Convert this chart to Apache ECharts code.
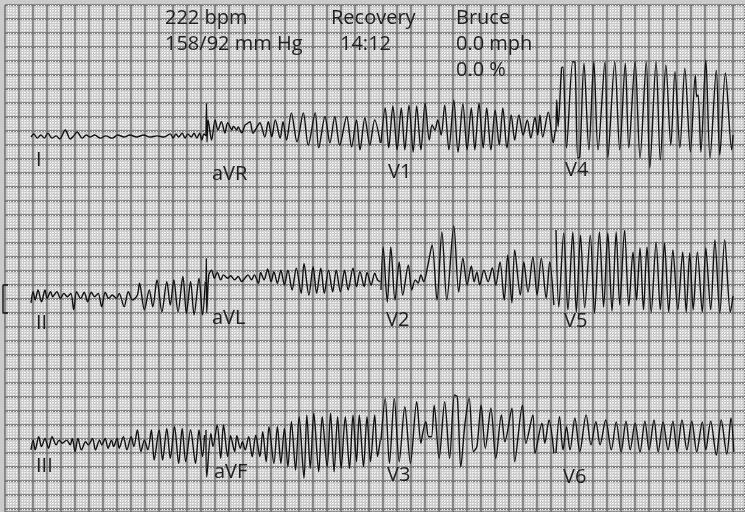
<!DOCTYPE html>
<html><head><meta charset="utf-8">
<script src="https://cdn.jsdelivr.net/npm/echarts/dist/echarts.min.js"></script>
<style>html,body{margin:0;padding:0;background:#fff}#c{width:745px;height:512px}</style>
</head><body><div id="c"></div>
<script>
// ---- header text ----
const HEADER_COL1 = ['222 bpm', '158/92 mm Hg'];
const HEADER_COL2 = ['Recovery', '14:12'];
const HEADER_COL3 = ['Bruce', '0.0 mph', '0.0 %'];
const LEAD_NAMES = [['I','aVR','V1','V4'],['II','aVL','V2','V5'],['III','aVF','V3','V6']];

// ---- traces: [time within lead (s), amplitude (mV)] ----
const I = [[0,0],[0.04,0.11],[0.09,-0.04],[0.14,0.07],[0.19,-0.04],[0.24,0.14],[0.30,-0.04],[0.36,0.04],[0.41,-0.07],[0.49,0.25],[0.56,-0.07],[0.61,0.04],[0.66,0.18],[0.73,-0.04],[0.79,0.07],[0.84,0],[0.91,0.07],[0.99,-0.04],[1.07,0.04],[1.16,-0.04],[1.24,0.07],[1.33,0],[1.41,0.07],[1.51,0],[1.61,0.07],[1.70,0],[1.80,0.04],[1.90,0],[1.99,0.11],[2.03,-0.04],[2.07,0.11],[2.11,0],[2.16,0.14],[2.20,-0.04],[2.24,0.11],[2.29,0],[2.33,0.14],[2.37,-0.04],[2.41,0.14],[2.44,-0.11],[2.47,0.11],[2.50,0.04]];
const aVR = [[0,0.04],[0.007,1.21],[0.014,-0.18],[0.03,0.61],[0.08,-0.11],[0.13,0.61],[0.17,0.25],[0.22,0.55],[0.27,0.14],[0.31,0.51],[0.37,0.25],[0.39,0.39],[0.44,0.25],[0.46,0.36],[0.51,0.15],[0.56,0.43],[0.60,0.50],[0.63,0.55],[0.67,0.14],[0.72,0.32],[0.77,0.51],[0.84,0],[0.89,0.55],[0.94,0.01],[0.99,0.61],[1.06,-0.04],[1.10,0.55],[1.15,-0.11],[1.22,0.86],[1.30,-0.17],[1.39,0.86],[1.46,-0.29],[1.56,0.86],[1.61,-0.39],[1.70,0.73],[1.77,-0.21],[1.84,0.73],[1.91,-0.29],[2.01,0.73],[2.08,-0.35],[2.15,0.61],[2.20,-0.46],[2.27,0.68],[2.34,-0.29],[2.41,0.61],[2.49,-0.21]];
const V1 = [[0,-0.21],[0.06,1.04],[0.11,-0.39],[0.17,1.11],[0.23,-0.46],[0.29,1.04],[0.34,-0.46],[0.40,1.14],[0.46,-0.54],[0.51,1.11],[0.57,-0.46],[0.63,1.21],[0.69,-0.11],[0.73,0.43],[0.77,0.25],[0.81,0.61],[0.86,0.07],[0.91,1.14],[0.97,-0.46],[1.04,1.32],[1.10,-0.54],[1.17,1.18],[1.23,-0.46],[1.29,1.04],[1.34,-0.46],[1.40,1.21],[1.46,-0.39],[1.51,1.04],[1.57,-0.46],[1.63,0.96],[1.69,-0.29],[1.74,1.04],[1.80,-0.39],[1.86,0.79],[1.91,-0.11],[1.97,0.79],[2.03,0.07],[2.09,0.61],[2.14,-0.04],[2.20,0.71],[2.24,0.07],[2.27,0.79],[2.31,0],[2.39,0.89],[2.46,-0.21],[2.49,0.25]];
const V4 = [[0,0.2],[0.01,1.32],[0.03,0.37],[0.08,2.46],[0.10,2.50],[0.15,-0.39],[0.24,2.69],[0.27,2.68],[0.31,-0.75],[0.34,-0.71],[0.40,2.64],[0.47,-0.46],[0.54,2.69],[0.60,-0.46],[0.70,2.69],[0.74,-0.75],[0.84,2.69],[0.91,-0.46],[0.99,2.64],[1.04,-0.39],[1.13,2.69],[1.20,-0.75],[1.29,2.69],[1.34,-1.11],[1.43,2.69],[1.49,-0.82],[1.57,2.57],[1.64,-0.29],[1.70,2.33],[1.77,-0.39],[1.84,2.46],[1.92,-0.53],[1.99,2.21],[2.01,1.44],[2.03,1.50],[2.07,-0.54],[2.14,2.75],[2.20,-0.75],[2.29,2.39],[2.34,-0.64],[2.42,2.29],[2.51,-0.46],[2.53,0.07]];

const II = [[0,-0.21],[0.03,0.19],[0.06,-0.11],[0.10,0.25],[0.15,-0.17],[0.20,0.25],[0.23,-0.05],[0.28,0.19],[0.31,0.01],[0.37,0.19],[0.42,-0.05],[0.47,0.13],[0.52,0.01],[0.57,0.13],[0.61,-0.46],[0.65,0.19],[0.71,-0.05],[0.76,0.17],[0.81,-0.17],[0.86,0.17],[0.91,0.01],[0.96,0.13],[1.01,-0.35],[1.06,0.17],[1.11,-0.05],[1.16,0.07],[1.22,-0.05],[1.26,0.13],[1.33,-0.35],[1.39,0.19],[1.45,-0.11],[1.52,0.07],[1.55,0.49],[1.62,-0.46],[1.69,0.25],[1.74,-0.35],[1.80,0.61],[1.87,-0.53],[1.94,0.55],[1.99,-0.29],[2.04,0.61],[2.10,-0.53],[2.17,0.73],[2.22,-0.58],[2.28,0.55],[2.33,-0.64],[2.40,0.67],[2.45,-0.64],[2.49,0.54]];
const aVL = [[0,0.54],[0.005,1.39],[0.01,-0.57],[0.04,0.79],[0.08,0.96],[0.12,0.67],[0.16,0.88],[0.21,0.61],[0.25,0.79],[0.31,0.67],[0.35,0.76],[0.41,0.61],[0.46,0.73],[0.51,0.55],[0.56,0.69],[0.60,0.79],[0.65,0.61],[0.69,0.79],[0.75,0.49],[0.78,0.88],[0.83,0.61],[0.88,1.00],[0.93,0.55],[0.97,0.90],[1.02,0.49],[1.07,0.96],[1.12,0.43],[1.17,0.96],[1.23,0.25],[1.29,1.03],[1.36,0.13],[1.40,1.20],[1.47,0.07],[1.53,1.08],[1.58,0.13],[1.64,1.03],[1.69,0.13],[1.75,0.96],[1.81,0.19],[1.86,0.96],[1.92,0.19],[1.98,0.96],[2.03,0.25],[2.10,1.03],[2.15,0.37],[2.20,0.90],[2.26,0.37],[2.30,0.88],[2.36,0.43],[2.41,0.85],[2.45,0.61],[2.49,0.54]];
const V2 = [[0,0.25],[0.03,1.79],[0.09,-0.18],[0.14,1.79],[0.20,-0.11],[0.26,1.25],[0.31,0.07],[0.39,1.14],[0.44,0.25],[0.49,0.61],[0.53,0.50],[0.57,0.79],[0.61,0.54],[0.67,1.14],[0.73,1.86],[0.80,-0.11],[0.87,2.32],[0.94,-0.11],[1.04,2.54],[1.11,0.18],[1.17,1.39],[1.23,0.43],[1.29,1.11],[1.33,0.54],[1.37,0.89],[1.41,0.43],[1.47,0.96],[1.53,0.54],[1.59,1.04],[1.64,0.43],[1.70,1.25],[1.76,-0.11],[1.81,1.50],[1.87,-0.21],[1.91,1.68],[1.99,0.07],[2.04,1.25],[2.10,0.18],[2.17,1.43],[2.23,0.07],[2.29,1.39],[2.36,-0.04],[2.41,1.25],[2.47,-0.29]];
const V5 = [[0,2.39],[0.04,-0.36],[0.11,2.29],[0.17,-0.46],[0.24,2.32],[0.29,-0.54],[0.35,2.21],[0.41,-0.39],[0.49,2.21],[0.55,-0.57],[0.62,2.32],[0.68,-0.36],[0.74,2.29],[0.80,-0.50],[0.86,2.32],[0.91,-0.29],[0.98,2.39],[1.04,-0.32],[1.10,1.61],[1.15,-0.11],[1.20,1.75],[1.25,-0.46],[1.30,1.79],[1.36,-0.54],[1.43,1.96],[1.49,-0.46],[1.55,1.93],[1.61,-0.54],[1.67,1.68],[1.74,-0.46],[1.81,1.61],[1.86,-0.54],[1.91,1.57],[1.96,-0.46],[2.02,1.61],[2.09,-0.54],[2.14,1.75],[2.21,-0.46],[2.27,2.04],[2.34,-0.57],[2.41,2.04],[2.49,-0.54],[2.53,0.04]];

const III = [[0,-0.14],[0.03,0.21],[0.06,-0.14],[0.11,0.33],[0.15,-0.02],[0.20,0.27],[0.25,-0.08],[0.30,0.33],[0.36,0.04],[0.40,0.21],[0.45,0.10],[0.51,0.21],[0.56,0.04],[0.59,0.27],[0.63,-0.20],[0.67,0.27],[0.72,-0.14],[0.78,0.15],[0.82,0.04],[0.88,0.27],[0.92,-0.14],[0.98,0.21],[1.01,0.04],[1.06,0.27],[1.10,-0.08],[1.15,0.21],[1.18,-0.02],[1.23,0.27],[1.26,-0.08],[1.32,0.33],[1.37,-0.14],[1.43,0.33],[1.47,-0.02],[1.52,0.57],[1.57,-0.20],[1.62,0.21],[1.67,-0.14],[1.72,0.57],[1.76,-0.50],[1.83,0.57],[1.88,-0.50],[1.94,0.63],[1.99,-0.44],[2.05,0.69],[2.11,-0.62],[2.16,0.63],[2.21,-0.56],[2.28,0.57],[2.35,-0.62],[2.40,0.57],[2.45,-0.38],[2.48,0.39]];
const aVF = [[0,0.57],[0.01,-1.11],[0.07,0.45],[0.10,-0.02],[0.16,0.75],[0.21,-0.44],[0.25,0.75],[0.31,-0.38],[0.35,0.37],[0.41,-0.20],[0.44,0.37],[0.49,-0.08],[0.52,0.15],[0.56,-0.14],[0.61,0.33],[0.66,-0.38],[0.71,0.39],[0.77,-0.38],[0.81,0.51],[0.86,-0.56],[0.90,0.69],[0.97,-0.62],[1.02,0.69],[1.07,-0.62],[1.12,0.63],[1.17,-0.74],[1.22,0.87],[1.28,-0.86],[1.33,1.05],[1.40,-1.15],[1.44,1.11],[1.49,-0.80],[1.54,1.17],[1.61,-0.92],[1.66,1.05],[1.73,-0.74],[1.78,1.17],[1.83,-0.92],[1.88,1.05],[1.93,-0.80],[1.99,1.05],[2.05,-0.80],[2.10,1.11],[2.15,-0.56],[2.19,1.11],[2.25,-0.74],[2.30,1.05],[2.35,-0.56],[2.41,1.11],[2.45,-0.38],[2.49,0.21]];
const V3 = [[0,0.21],[0.06,1.70],[0.12,-0.62],[0.19,1.70],[0.26,-0.56],[0.34,1.40],[0.42,-0.62],[0.51,1.58],[0.57,0.10],[0.60,0.51],[0.64,0.87],[0.68,0.33],[0.72,0.33],[0.76,1.46],[0.83,-0.44],[0.91,1.58],[0.98,-0.44],[1.05,1.82],[1.09,1.76],[1.14,-0.74],[1.20,0.81],[1.26,1.70],[1.32,-0.20],[1.37,-0.02],[1.43,1.46],[1.49,-0.08],[1.57,1.35],[1.64,-0.44],[1.72,1.11],[1.77,0.15],[1.87,1.35],[1.91,-0.56],[2.02,1.46],[2.07,0.10],[2.17,1.11],[2.20,-0.26],[2.30,0.81],[2.34,0.10],[2.40,0.93],[2.47,-0.26]];
const V6 = [[0,-0.25],[0.05,1.05],[0.10,-0.14],[0.15,0.69],[0.20,-0.14],[0.27,0.99],[0.34,-0.20],[0.43,1.11],[0.50,0.04],[0.57,0.87],[0.63,0.04],[0.71,0.93],[0.79,-0.14],[0.86,0.86],[0.93,-0.21],[1.00,0.89],[1.06,-0.14],[1.13,0.82],[1.20,-0.21],[1.27,0.89],[1.33,-0.14],[1.40,0.93],[1.46,-0.21],[1.53,0.86],[1.60,-0.14],[1.67,0.89],[1.73,-0.21],[1.80,0.93],[1.87,-0.14],[1.94,0.89],[2.01,-0.21],[2.09,0.86],[2.14,-0.14],[2.21,0.89],[2.29,-0.32],[2.36,0.93],[2.44,-0.29],[2.50,1.00],[2.54,-0.21]];

const CAL_MV = 1; // calibration pulse height

// ---- layout ----
const SEC_PX = 70, MV_PX = 28, MM_PX = 2.8;   // 25 mm/s, 10 mm/mV
const W = 745, H = 512, PAPER_L = 5, PAPER_T = 5;
const T0_PX = 31;
const ROW_BASE_PX = [137, 297, 446];
const LEAD_START_S = [0, 2.5, 5, 7.5];
const LEADS = [[I, aVR, V1, V4], [II, aVL, V2, V5], [III, aVF, V3, V6]];
const LABEL_POS = [
  [[36,160],[212,174],[388,172],[565,170]],
  [[36,323],[212,318],[386,320],[564,321]],
  [[36,466],[214,472],[387,475],[563,477]]
];
const FONT = '20px "Open Sans", "Noto Sans", sans-serif';
const TXT = '#1e1e1e';

const baseMv = r => -ROW_BASE_PX[r] / MV_PX;
const series = [{type:'line', xAxisIndex:0, yAxisIndex:0, data:[]}];
LEADS.forEach((row, r) => row.forEach((pts, c) => {
  series.push({
    type:'line', xAxisIndex:1, yAxisIndex:1, silent:true, showSymbol:false, z:5, smooth:0.3,
    data: pts.map(([t, v]) => [LEAD_START_S[c] + t, baseMv(r) + v]),
    lineStyle:{color:'#111', width:1.4}
  });
}));
// calibration bracket on row 2
const calT1 = (3 - T0_PX) / SEC_PX, calT2 = (8 - T0_PX) / SEC_PX;
const calTop = -285 / MV_PX;
series.push({type:'line', xAxisIndex:1, yAxisIndex:1, silent:true, showSymbol:false, z:5,
  data:[[calT2, calTop],[calT1, calTop],[calT1, calTop - CAL_MV],[calT2, calTop - CAL_MV]],
  lineStyle:{color:'#111', width:1.4}});

const texts = [];
const addText = (s, x, y) => texts.push({type:'text', x, y, z:10,
  style:{text:s, font:FONT, fill:TXT, verticalAlign:'middle', align:'left'}});
HEADER_COL1.forEach((s,i) => addText(s, 165, 18 + i*26));
HEADER_COL2.forEach((s,i) => addText(s, i ? 340 : 331, 18 + i*26));
HEADER_COL3.forEach((s,i) => addText(s, 456, 18 + i*26));
LEAD_NAMES.forEach((row, r) => row.forEach((n, c) => addText(n, LABEL_POS[r][c][0], LABEL_POS[r][c][1])));

const paperAxis = (len) => ({
  type:'value', min:0, max:len / MM_PX, interval:5,
  axisLine:{show:false}, axisTick:{show:false}, axisLabel:{show:false},
  splitLine:{show:true, lineStyle:{color:'#6f6f6f', width:1.5}},
  minorTick:{show:false, splitNumber:5},
  minorSplitLine:{show:true, lineStyle:{color:'#ffffff', width:1, type:[1,1.8]}}
});

const chart = echarts.init(document.getElementById('c'), null, {renderer:'canvas'});
chart.setOption({
  backgroundColor:'#cbcbcb',
  animation:false,
  grid:[
    {left:PAPER_L, top:PAPER_T, right:0, bottom:0},
    {left:0, top:0, right:0, bottom:0}
  ],
  xAxis:[
    Object.assign({gridIndex:0}, paperAxis(W - PAPER_L)),
    {gridIndex:1, type:'value', min:-T0_PX/SEC_PX, max:(W - T0_PX)/SEC_PX, show:false}
  ],
  yAxis:[
    Object.assign({gridIndex:0, inverse:true}, paperAxis(H - PAPER_T)),
    {gridIndex:1, type:'value', min:-H/MV_PX, max:0, show:false}
  ],
  graphic: texts,
  series
});
</script></body></html>
